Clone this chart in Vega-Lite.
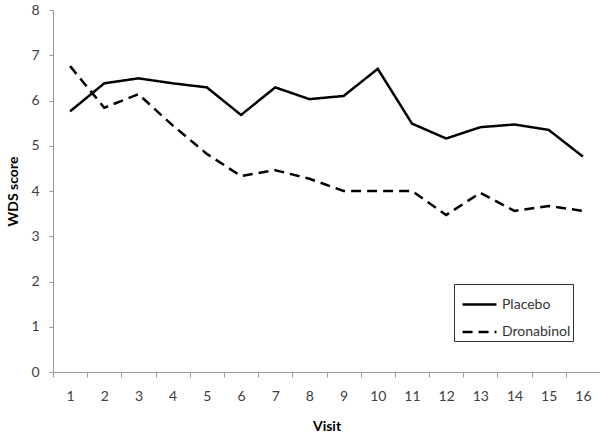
{
  "$schema": "https://vega.github.io/schema/vega-lite/v6.json",
  "autosize": "none",
  "padding": {"left": 53, "top": 10, "right": 0, "bottom": 64},
  "width": 547,
  "height": 362,
  "background": "white",
  "config": {
    "font": "Lato",
    "view": {"stroke": null}
  },
  "data": {
    "values": [
      {"visit": 1, "group": "Placebo", "score": 5.76},
      {"visit": 2, "group": "Placebo", "score": 6.38},
      {"visit": 3, "group": "Placebo", "score": 6.49},
      {"visit": 4, "group": "Placebo", "score": 6.38},
      {"visit": 5, "group": "Placebo", "score": 6.29},
      {"visit": 6, "group": "Placebo", "score": 5.68},
      {"visit": 7, "group": "Placebo", "score": 6.29},
      {"visit": 8, "group": "Placebo", "score": 6.03},
      {"visit": 9, "group": "Placebo", "score": 6.1},
      {"visit": 10, "group": "Placebo", "score": 6.7},
      {"visit": 11, "group": "Placebo", "score": 5.49},
      {"visit": 12, "group": "Placebo", "score": 5.16},
      {"visit": 13, "group": "Placebo", "score": 5.41},
      {"visit": 14, "group": "Placebo", "score": 5.47},
      {"visit": 15, "group": "Placebo", "score": 5.35},
      {"visit": 16, "group": "Placebo", "score": 4.76},
      {"visit": 1, "group": "Dronabinol", "score": 6.76},
      {"visit": 2, "group": "Dronabinol", "score": 5.84},
      {"visit": 3, "group": "Dronabinol", "score": 6.14},
      {"visit": 4, "group": "Dronabinol", "score": 5.45},
      {"visit": 5, "group": "Dronabinol", "score": 4.82},
      {"visit": 6, "group": "Dronabinol", "score": 4.33},
      {"visit": 7, "group": "Dronabinol", "score": 4.46},
      {"visit": 8, "group": "Dronabinol", "score": 4.27},
      {"visit": 9, "group": "Dronabinol", "score": 4.0},
      {"visit": 10, "group": "Dronabinol", "score": 4.0},
      {"visit": 11, "group": "Dronabinol", "score": 4.0},
      {"visit": 12, "group": "Dronabinol", "score": 3.47},
      {"visit": 13, "group": "Dronabinol", "score": 3.96},
      {"visit": 14, "group": "Dronabinol", "score": 3.56},
      {"visit": 15, "group": "Dronabinol", "score": 3.67},
      {"visit": 16, "group": "Dronabinol", "score": 3.56}
    ]
  },
  "mark": {"type": "line", "color": "black", "strokeWidth": 2.5},
  "encoding": {
    "x": {
      "field": "visit",
      "type": "ordinal",
      "scale": {"type": "band", "paddingInner": 0, "paddingOuter": 0},
      "axis": {
        "title": "Visit",
        "titleFontSize": 14,
        "titleFontWeight": "bold",
        "titleColor": "black",
        "titlePadding": 16,
        "labelAngle": 0,
        "labelFontSize": 14,
        "labelColor": "#404040",
        "labelPadding": 12,
        "tickBand": "extent",
        "tickSize": 5,
        "tickColor": "#999999",
        "domainColor": "#999999",
        "grid": false
      }
    },
    "y": {
      "field": "score",
      "type": "quantitative",
      "scale": {"domain": [0, 8], "nice": false},
      "axis": {
        "title": "WDS score",
        "titleFontSize": 14,
        "titleFontWeight": "bold",
        "titleColor": "black",
        "titlePadding": 10,
        "values": [0, 1, 2, 3, 4, 5, 6, 7, 8],
        "labelFontSize": 14,
        "labelColor": "#404040",
        "labelPadding": 10,
        "tickSize": 4,
        "tickColor": "#999999",
        "domainColor": "#999999",
        "grid": false
      }
    },
    "strokeDash": {
      "field": "group",
      "type": "nominal",
      "scale": {"domain": ["Placebo", "Dronabinol"], "range": [[1, 0], [10, 6]]},
      "legend": {
        "title": null,
        "orient": "none",
        "legendX": 401,
        "legendY": 274,
        "strokeColor": "#333333",
        "fillColor": "white",
        "padding": 2,
        "symbolOffset": 5,
        "symbolType": "stroke",
        "symbolSize": 1150,
        "symbolStrokeWidth": 2.5,
        "symbolStrokeColor": "black",
        "symbolDash": [9, 9],
        "labelFontSize": 14,
        "labelColor": "#333333",
        "labelOffset": 4,
        "rowPadding": 1.5
      }
    }
  }
}
